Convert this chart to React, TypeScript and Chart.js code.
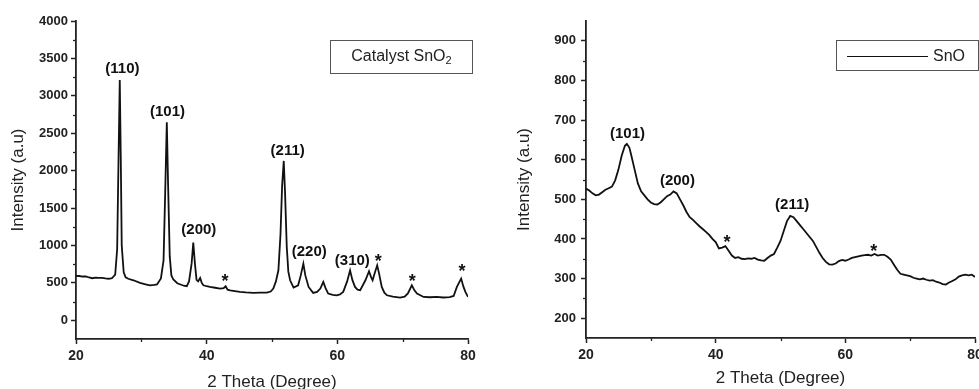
import React, { useEffect, useRef } from 'react';
import { Chart, registerables } from 'chart.js';

Chart.register(...registerables);

const FONT = '"Liberation Sans", Arial, Helvetica, sans-serif';

// ---------- Left panel: Catalyst SnO2 ----------
const leftTheta = [
  20.0, 20.5, 21.0, 21.5, 22.0, 22.5, 23.0, 23.5, 24.0, 24.5, 25.0, 25.5, 26.0, 26.3, 26.5, 26.7, 26.85, 27.0, 27.3, 27.6,
  28.0, 28.8, 29.8, 30.5, 31.3, 32.0, 32.4, 33.0, 33.4, 33.65, 33.9, 34.1, 34.35, 34.6, 34.9, 35.5, 35.9, 36.5, 36.95, 37.3,
  37.7, 37.95, 38.2, 38.45, 38.7, 39.0, 39.25, 39.5, 40.0, 40.5, 41.3, 42.05, 42.6, 42.9, 43.2, 43.6, 44.3, 45.1, 46.0, 47.15,
  48.2, 49.2, 49.8, 50.2, 50.6, 50.98, 51.3, 51.55, 51.8, 52.0, 52.26, 52.5, 52.77, 53.3, 54.0, 54.4, 54.8, 55.1, 55.6, 56.3,
  56.9, 57.4, 57.85, 58.2, 58.6, 59.3, 59.9, 60.4, 60.9, 61.5, 61.95, 62.3, 62.7, 63.1, 63.5, 64.3, 64.85, 65.15, 65.4, 65.75,
  66.1, 66.4, 66.8, 67.2, 67.6, 68.5, 69.6, 70.3, 70.8, 71.4, 71.8, 72.2, 73.2, 74.2, 75.2, 76.2, 77.2, 77.8, 78.3, 78.95,
  79.3, 79.6, 80.0,
];
const leftIntensity = [
  595, 592, 585, 588, 572, 562, 570, 566, 567, 560, 555, 562, 610, 950, 2100, 3210, 2200, 1000, 640, 575,
  555, 535, 500, 485, 468, 472, 480, 560, 800, 1700, 2645, 1800, 850, 600, 545, 495, 482, 462, 455, 520,
  760, 1040, 760, 540, 520, 566, 500, 468, 455, 446, 435, 424, 430, 455, 410, 401, 390, 379, 372, 366,
  370, 369, 385, 424, 520, 668, 1150, 1800, 2130, 1700, 980, 650, 535, 437, 468, 600, 757, 600, 446, 366,
  380, 424, 513, 430, 357, 340, 334, 345, 379, 520, 668, 540, 446, 410, 401, 535, 655, 580, 535, 640,
  735, 620, 446, 370, 334, 315, 303, 315, 360, 468, 400, 357, 312, 308, 312, 305, 310, 325, 446, 557,
  450, 379, 312,
];
const leftYTicks = [0, 500, 1000, 1500, 2000, 2500, 3000, 3500, 4000];
const leftYMinor = [250, 750, 1250, 1750, 2250, 2750, 3250, 3750];
const leftPeakLabels = ['(110)', '(101)', '(200)', '(211)', '(220)', '(310)', '*', '*', '*', '*'];
const leftPeakLabelTheta = [27.1, 34.0, 38.8, 52.4, 55.7, 62.3, 66.25, 42.8, 71.45, 79.1];
const leftPeakLabelIntensity = [3362, 2781, 1210, 2262, 913, 789, 842, 575, 575, 709];

// ---------- Right panel: SnO ----------
const rightTheta = [
  20, 20.5, 21, 21.5, 22, 22.5, 23, 23.5, 24, 24.5, 25, 25.5, 26, 26.3, 26.7, 27, 27.5, 28, 28.5, 29,
  29.5, 30, 30.5, 31, 31.5, 32, 32.5, 33, 33.5, 34, 34.5, 35, 35.5, 36, 36.5, 37, 37.5, 38, 38.5, 39,
  39.5, 40, 40.5, 41, 41.5, 42, 42.5, 43, 43.5, 44, 44.5, 45, 45.5, 46, 46.5, 47, 47.5, 48, 48.5, 49,
  49.5, 50, 50.5, 51, 51.5, 52, 52.5, 53, 53.5, 54, 54.5, 55, 55.5, 56, 56.5, 57, 57.5, 58, 58.5, 59,
  59.5, 60, 60.5, 61, 61.5, 62, 62.5, 63, 63.5, 64, 64.5, 65, 65.5, 66, 66.5, 67, 67.5, 68, 68.5, 69,
  69.5, 70, 70.5, 71, 71.5, 72, 72.5, 73, 73.5, 74, 74.5, 75, 75.5, 76, 76.5, 77, 77.5, 78, 78.5, 79,
  79.5, 80,
];
const rightIntensity = [
  527, 522, 515, 510, 512, 518, 524, 528, 532, 548, 575, 610, 635, 640, 630, 610, 575, 540, 520, 510,
  500, 492, 488, 487, 492, 500, 508, 512, 520, 515, 500, 485, 468, 455, 448, 440, 432, 425, 418, 410,
  400, 392, 376, 378, 382, 370, 358, 352, 354, 350, 349, 351, 350, 352, 348, 346, 345, 352, 358, 362,
  378, 395, 420, 445, 458, 455, 445, 435, 425, 415, 405, 395, 380, 365, 352, 342, 336, 335, 338, 344,
  347, 345, 348, 352, 354, 356, 358, 359, 360, 358, 362, 358, 360, 360, 355, 348, 335, 322, 312, 310,
  308, 306, 302, 300, 298, 300, 297, 295, 296, 292, 290, 286, 285, 290, 294, 298, 305, 308, 310, 308,
  310, 304,
];
const rightYTicks = [200, 300, 400, 500, 600, 700, 800, 900];
const rightYMinor = [250, 350, 450, 550, 650, 750, 850];
const rightPeakLabels = ['(101)', '(200)', '(211)', '*', '*'];
const rightPeakLabelTheta = [26.4, 34.1, 51.8, 41.76, 64.4];
const rightPeakLabelIntensity = [665, 547, 485, 402, 380];

// shared x axis
const xTicks = [20, 40, 60, 80];
const xMinor = [30, 50, 70];

const decorPlugin = {
  id: 'xrdDecor',
  afterDraw(chart: any, _args: any, opts: any) {
    const ctx = chart.ctx;
    const xs = chart.scales.x;
    const ys = chart.scales.y;
    const area = chart.chartArea;
    ctx.save();
    ctx.strokeStyle = '#222';
    ctx.lineWidth = 1.3;
    for (const v of opts.xMinor) {
      const px = Math.round(xs.getPixelForValue(v)) + 0.5;
      ctx.beginPath();
      ctx.moveTo(px, area.bottom);
      ctx.lineTo(px, area.bottom + 3);
      ctx.stroke();
    }
    for (const v of opts.yMinor) {
      const py = Math.round(ys.getPixelForValue(v)) + 0.5;
      ctx.beginPath();
      ctx.moveTo(area.left, py);
      ctx.lineTo(area.left - 3, py);
      ctx.stroke();
    }
    ctx.fillStyle = '#111';
    ctx.textAlign = 'center';
    opts.labels.forEach((t: string, i: number) => {
      const px = xs.getPixelForValue(opts.theta[i]);
      const py = ys.getPixelForValue(opts.intensity[i]);
      if (t === '*') {
        ctx.font = `bold 18px ${FONT}`;
        ctx.textBaseline = 'alphabetic';
        ctx.fillText(t, px, py + 10);
      } else {
        ctx.font = `bold 15px ${FONT}`;
        ctx.textBaseline = 'middle';
        ctx.fillText(t, px, py);
      }
    });
    ctx.restore();
  },
};

type PanelProps = {
  theta: number[];
  intensity: number[];
  yMin: number;
  yMax: number;
  yTicks: number[];
  yMinor: number[];
  labels: string[];
  labelTheta: number[];
  labelIntensity: number[];
  width: number;
  yAxisWidth: number;
  xAxisHeight: number;
  padRight: number;
  yTitlePad: number;
  xTitlePad: number;
  yTickPad: number;
};

function Panel(p: PanelProps) {
  const ref = useRef<HTMLCanvasElement | null>(null);
  useEffect(() => {
    if (!ref.current) return;
    const data = p.theta.map((x, i) => ({ x, y: p.intensity[i] }));
    const chart = new Chart(ref.current, {
      type: 'line',
      data: {
        datasets: [
          {
            data,
            borderColor: '#111',
            borderWidth: 1.8,
            pointRadius: 0,
            tension: 0,
            fill: false,
          },
        ],
      },
      options: {
        animation: false,
        responsive: false,
        devicePixelRatio: 1,
        layout: { padding: { left: 0, right: p.padRight, top: 21, bottom: 0 } },
        plugins: {
          legend: { display: false },
          tooltip: { enabled: false },
          xrdDecor: {
            xMinor,
            yMinor: p.yMinor,
            labels: p.labels,
            theta: p.labelTheta,
            intensity: p.labelIntensity,
          },
        } as any,
        scales: {
          x: {
            type: 'linear',
            min: 20,
            max: 80,
            afterBuildTicks: (s: any) => {
              s.ticks = xTicks.map((v) => ({ value: v }));
            },
            afterFit: (s: any) => {
              s.height = p.xAxisHeight;
              s.paddingLeft = 0;
              s.paddingRight = 0;
            },
            grid: {
              drawOnChartArea: false,
              drawTicks: true,
              tickLength: 5,
              tickColor: '#222',
              tickWidth: 1.5,
            },
            border: { display: true, color: '#222', width: 1.8 },
            ticks: {
              color: '#222',
              padding: 4,
              maxRotation: 0,
              callback: (v: any) => String(v),
              font: { family: FONT, size: 14, weight: 'bold' },
            },
            title: {
              display: true,
              text: '2 Theta (Degree)',
              color: '#222',
              font: { family: FONT, size: 17, lineHeight: 1 },
              padding: { top: 0, bottom: p.xTitlePad },
            },
          },
          y: {
            type: 'linear',
            min: p.yMin,
            max: p.yMax,
            afterBuildTicks: (s: any) => {
              s.ticks = p.yTicks.map((v) => ({ value: v }));
            },
            afterFit: (s: any) => {
              s.width = p.yAxisWidth;
              s.paddingTop = 0;
              s.paddingBottom = 0;
            },
            grid: {
              drawOnChartArea: false,
              drawTicks: true,
              tickLength: 5,
              tickColor: '#222',
              tickWidth: 1.5,
            },
            border: { display: true, color: '#222', width: 1.8 },
            ticks: {
              color: '#222',
              padding: p.yTickPad,
              callback: (v: any) => String(v),
              font: { family: FONT, size: 13, weight: 'bold' },
            },
            title: {
              display: true,
              text: 'Intensity (a.u)',
              color: '#222',
              font: { family: FONT, size: 17, lineHeight: 1.2 },
              padding: { top: p.yTitlePad, bottom: 0 },
            },
          },
        },
      },
      plugins: [decorPlugin],
    } as any);
    return () => chart.destroy();
  }, []);
  return (
    <canvas
      ref={ref}
      width={p.width}
      height={389}
      style={{ display: 'block', width: p.width, height: 389 }}
    />
  );
}

export default function App() {
  return (
    <div
      style={{
        position: 'fixed',
        left: 0,
        top: 0,
        width: 979,
        height: 389,
        background: '#fff',
        overflow: 'hidden',
        fontFamily: FONT,
      }}
    >
      <div style={{ position: 'absolute', left: 0, top: 0 }}>
        <Panel
          theta={leftTheta}
          intensity={leftIntensity}
          yMin={-250}
          yMax={4000}
          yTicks={leftYTicks}
          yMinor={leftYMinor}
          labels={leftPeakLabels}
          labelTheta={leftPeakLabelTheta}
          labelIntensity={leftPeakLabelIntensity}
          width={490}
          yAxisWidth={76}
          xAxisHeight={50}
          padRight={22}
          yTitlePad={8}
          xTitlePad={-2}
          yTickPad={3}
        />
      </div>
      <div style={{ position: 'absolute', left: 490, top: 0 }}>
        <Panel
          theta={rightTheta}
          intensity={rightIntensity}
          yMin={150}
          yMax={950}
          yTicks={rightYTicks}
          yMinor={rightYMinor}
          labels={rightPeakLabels}
          labelTheta={rightPeakLabelTheta}
          labelIntensity={rightPeakLabelIntensity}
          width={489}
          yAxisWidth={96}
          xAxisHeight={51}
          padRight={4}
          yTitlePad={24}
          xTitlePad={2}
          yTickPad={5}
        />
      </div>
      <div
        style={{
          position: 'absolute',
          left: 330,
          top: 40,
          width: 143,
          height: 34,
          boxSizing: 'border-box',
          border: '1.3px solid #555',
          display: 'flex',
          alignItems: 'center',
          justifyContent: 'center',
          fontSize: 16,
          color: '#222',
          lineHeight: 1,
        }}
      >
        <span>
          Catalyst SnO<sub style={{ fontSize: 11, verticalAlign: -3 }}>2</sub>
        </span>
      </div>
      <div
        style={{
          position: 'absolute',
          left: 836,
          top: 40,
          width: 143,
          height: 31,
          boxSizing: 'border-box',
          border: '1.3px solid #555',
          color: '#222',
        }}
      >
        <div
          style={{
            position: 'absolute',
            left: 10,
            top: 15,
            width: 81,
            height: 0,
            borderTop: '1.5px solid #111',
          }}
        />
        <div
          style={{
            position: 'absolute',
            left: 96,
            top: 0,
            height: 29,
            display: 'flex',
            alignItems: 'center',
            fontSize: 16,
            lineHeight: 1,
          }}
        >
          SnO
        </div>
      </div>
    </div>
  );
}
